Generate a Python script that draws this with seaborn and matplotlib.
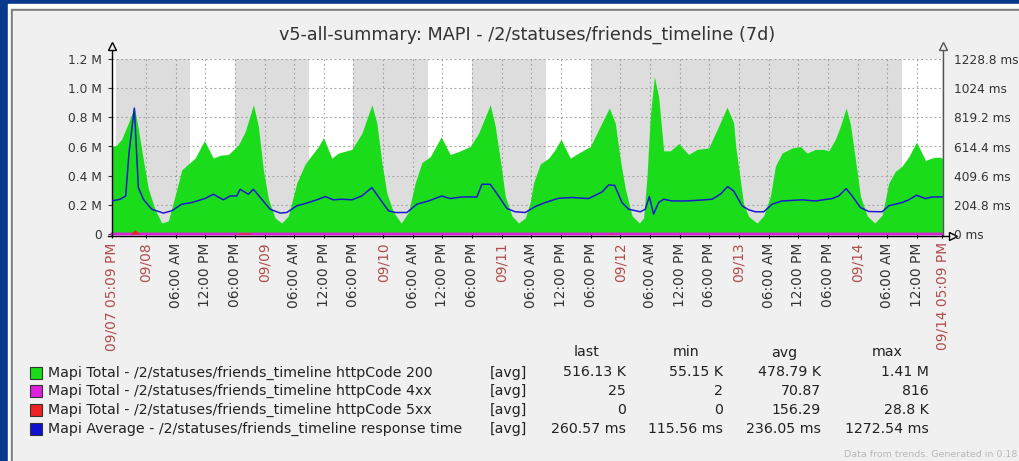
import numpy as np
import pandas as pd
import seaborn as sns
import matplotlib.pyplot as plt
from matplotlib.patches import Rectangle

# time axis: hours since 09/07 05:09 PM, 7 days
start = pd.Timestamp('2015-09-07 17:09')
period_h = 168

# httpCode 200 (millions)
ok_hours = [0.0, 0.95, 1.96, 3.30, 4.52, 5.33, 6.34, 7.35, 8.70, 10.06, 11.40, 12.75, 14.11, 15.44,
            16.80, 18.68, 20.50, 21.86, 23.54, 25.57, 26.92, 28.60, 29.61, 30.62, 31.64, 32.99,
            34.35, 35.68, 37.38, 39.07, 41.76, 42.77, 44.47, 45.81, 48.52, 50.54, 52.57, 53.58,
            54.59, 55.60, 56.94, 58.50, 59.98, 61.33, 62.69, 64.37, 66.59, 68.41, 70.10, 72.46,
            74.14, 76.51, 77.52, 78.54, 79.55, 80.90, 82.24, 83.60, 84.61, 85.28, 86.63, 88.31,
            89.67, 90.82, 92.70, 94.38, 96.75, 98.78, 100.60, 101.81, 102.82, 103.84, 105.19,
            106.67, 107.54, 108.23, 108.90, 109.71, 110.58, 111.59, 112.94, 114.62, 116.65,
            118.35, 120.70, 122.72, 124.42, 125.76, 126.17, 126.98, 127.79, 128.80, 130.49,
            131.83, 133.19, 134.20, 135.55, 137.58, 139.26, 140.61, 142.29, 143.97, 144.99,
            146.34, 147.35, 148.51, 149.38, 150.39, 151.40, 152.76, 154.29, 155.79, 157.13,
            158.48, 159.84, 161.18, 162.74, 164.56, 166.24, 167.59, 168.0]
ok_m = [0.60, 0.61, 0.65, 0.76, 0.87, 0.72, 0.51, 0.31, 0.17, 0.075, 0.09, 0.26, 0.44, 0.48,
        0.52, 0.64, 0.52, 0.54, 0.545, 0.61, 0.70, 0.886, 0.74, 0.44, 0.24, 0.11,
        0.075, 0.125, 0.35, 0.48, 0.60, 0.66, 0.52, 0.555, 0.58, 0.69, 0.886, 0.76,
        0.49, 0.28, 0.15, 0.075, 0.15, 0.35, 0.49, 0.53, 0.666, 0.545, 0.565, 0.60,
        0.69, 0.886, 0.74, 0.51, 0.26, 0.125, 0.075, 0.11, 0.22, 0.35, 0.48, 0.52,
        0.58, 0.65, 0.52, 0.555, 0.60, 0.74, 0.864, 0.76, 0.51, 0.31, 0.125,
        0.075, 0.11, 0.40, 0.81, 1.08, 0.94, 0.57, 0.57, 0.62, 0.545,
        0.58, 0.59, 0.74, 0.87, 0.76, 0.60, 0.40, 0.20, 0.12, 0.075,
        0.125, 0.26, 0.466, 0.555, 0.59, 0.60, 0.555, 0.58, 0.58, 0.57,
        0.65, 0.74, 0.864, 0.75, 0.51, 0.26, 0.125, 0.075, 0.13, 0.35,
        0.43, 0.466, 0.53, 0.63, 0.505, 0.525, 0.527, 0.516]

# httpCode 4xx / 5xx (millions)
err4_hours = [0, 42, 84, 126, 168]
err4_m = [0.00007, 0.00006, 0.00008, 0.00007, 0.000025]
err5_hours = [0, 3.6, 4.6, 5.6, 25.0, 26.2, 27.6, 28.8, 100.3, 101.0, 101.7, 168]
err5_m = [0, 0, 0.0288, 0, 0, 0.008, 0.008, 0, 0, 0.006, 0, 0]

# response time (ms)
rt_hours = [0.0, 1.62, 2.77, 3.44, 4.52, 5.33, 6.34, 8.03, 10.39, 12.08, 14.11, 16.13, 18.82,
            20.50, 22.53, 23.88, 25.23, 25.91, 27.59, 28.60, 30.30, 31.98, 34.01, 35.36, 37.38,
            39.41, 41.76, 43.11, 44.79, 46.49, 48.52, 50.54, 52.57, 54.25, 55.93, 57.28, 59.65,
            61.67, 64.02, 66.73, 68.41, 70.78, 73.82, 74.83, 76.51, 78.19, 79.89, 81.57, 83.60,
            85.62, 87.64, 90.34, 93.05, 96.41, 99.12, 100.46, 101.67, 103.17, 104.50, 106.87,
            107.88, 108.69, 109.56, 110.58, 111.59, 113.29, 115.98, 118.67, 121.38, 123.06,
            124.54, 125.76, 127.46, 128.80, 130.15, 131.83, 133.53, 135.55, 139.60, 142.29,
            145.68, 147.01, 148.51, 149.72, 151.40, 153.08, 155.79, 157.13, 159.84, 161.18,
            162.74, 164.56, 165.91, 167.59, 168.0]
rt_ms = [232, 244, 267, 570, 884, 326, 244, 174, 147, 163, 209, 221, 249,
         279, 240, 267, 267, 314, 279, 314, 244, 174, 147, 151, 198,
         217, 244, 263, 240, 244, 240, 267, 326, 244, 163, 151, 151,
         209, 232, 267, 249, 260, 260, 349, 349, 267, 179, 156, 151,
         193, 221, 251, 256, 249, 295, 344, 342, 221, 174, 156,
         174, 263, 140, 221, 244, 232, 232, 237, 244, 279,
         333, 302, 198, 170, 156, 156, 209, 232, 240, 232,
         249, 267, 319, 267, 186, 158, 156, 198, 221, 240,
         272, 249, 260, 260, 260]

left_ticks = [0, 0.2, 0.4, 0.6, 0.8, 1.0, 1.2]
left_labels = ['0', '0.2 M', '0.4 M', '0.6 M', '0.8 M', '1.0 M', '1.2 M']
right_ticks = [0, 204.8, 409.6, 614.4, 819.2, 1024, 1228.8]
right_labels = ['0 ms', '204.8 ms', '409.6 ms', '614.4 ms', '819.2 ms', '1024 ms', '1228.8 ms']

title = 'v5-all-summary: MAPI - /2/statuses/friends_timeline (7d)'
legend_names = ['Mapi Total - /2/statuses/friends_timeline httpCode 200',
                'Mapi Total - /2/statuses/friends_timeline httpCode 4xx',
                'Mapi Total - /2/statuses/friends_timeline httpCode 5xx',
                'Mapi Average - /2/statuses/friends_timeline response time']
legend_colors = ['#1adc1a', '#dc20dc', '#ee2222', '#1010d0']
col_names = ['last', 'min', 'avg', 'max']
col_last = ['516.13 K', '25', '0', '260.57 ms']
col_min = ['55.15 K', '2', '0', '115.56 ms']
col_avg = ['478.79 K', '70.87', '156.29', '236.05 ms']
col_max = ['1.41 M', '816', '28.8 K', '1272.54 ms']

W, H = 1020, 461


def fx(x):
    return x / W


def fy(y):
    return 1 - y / H


fig = plt.figure(figsize=(W / 100, H / 100), dpi=100)
fig.patch.set_facecolor('#073a8a')
fig.patches.append(Rectangle((fx(8), 0), 1, fy(4), transform=fig.transFigure, color='white', zorder=-3))
fig.patches.append(Rectangle((fx(11), 0), 1, fy(9), transform=fig.transFigure, color='#7c7c7c', zorder=-2))
fig.patches.append(Rectangle((fx(13), 0), 1, fy(11), transform=fig.transFigure, color='#f0f0f0', zorder=-1))

ax = fig.add_axes([fx(112), fy(234), (942.5 - 112) / W, 175 / H])
ax.set_facecolor('#dddddd')
ax.set_xlim(0, period_h)
ax.set_ylim(0, 1.2)

# working time (09:00-18:00 on weekdays) is white
for day in pd.date_range(start.normalize(), periods=8, freq='D'):
    if day.dayofweek < 5:
        a = (day + pd.Timedelta(hours=9) - start) / pd.Timedelta(hours=1)
        b = (day + pd.Timedelta(hours=18) - start) / pd.Timedelta(hours=1)
        a, b = max(a, 0), min(b, period_h)
        if b > a:
            ax.axvspan(a, b, color='white', lw=0, zorder=0)

# grid
ticks = pd.date_range('2015-09-08 00:00', '2015-09-14 12:00', freq='6h')
tick_h = [(t - start) / pd.Timedelta(hours=1) for t in ticks]
for h in tick_h:
    ax.axvline(h, color='#a0a0a0', lw=0.8, ls=(0, (1.5, 2.5)), zorder=1)
for v in left_ticks[1:]:
    ax.axhline(v, color='#a0a0a0', lw=0.8, ls=(0, (1.5, 2.5)), zorder=1)

ax.fill_between(ok_hours, ok_m, color=legend_colors[0], lw=0, zorder=2)
sns.lineplot(x=err4_hours, y=err4_m, ax=ax, color=legend_colors[1], lw=2.0, zorder=3, clip_on=False)
ax.fill_between(err5_hours, err5_m, color=legend_colors[2], lw=0, zorder=4)

ax2 = ax.twinx()
ax2.set_ylim(0, 1228.8)
sns.lineplot(x=rt_hours, y=rt_ms, ax=ax2, color='#1a1acc', lw=1.1, zorder=5)
ax2.set_xlim(0, period_h)

for a_ in (ax, ax2):
    for s in a_.spines.values():
        s.set_visible(False)
    a_.set_xlabel('')
    a_.set_ylabel('')

ax.set_yticks(left_ticks)
ax.set_yticklabels(left_labels)
ax.tick_params(axis='y', length=3, pad=4, labelsize=8.8, colors='#333333')
ax2.set_yticks(right_ticks)
ax2.set_yticklabels(right_labels)
ax2.tick_params(axis='y', length=0, pad=8.5, labelsize=8.7, colors='#333333')

# x tick labels
all_h = [0] + tick_h + [period_h]
all_lab = ['09/07 05:09 PM']
colors = ['#b04c4c']
for t in ticks:
    if t.hour == 0:
        all_lab.append(t.strftime('%m/%d'))
        colors.append('#b04c4c')
    else:
        all_lab.append(t.strftime('%I:%M %p'))
        colors.append('#333333')
all_lab.append('09/14 05:09 PM')
colors.append('#b04c4c')
ax.set_xticks(all_h)
ax.set_xticklabels(all_lab, rotation=90, va='top', ha='center')
ax.tick_params(axis='x', length=3, pad=3, labelsize=9.9)
for lbl, c in zip(ax.get_xticklabels(), colors):
    lbl.set_color(c)

# axis lines with arrows
ax.plot([0, 0], [-0.01, 1.07], transform=ax.transAxes, color='black', lw=1, clip_on=False, zorder=6)
ax.plot([0], [1.075], transform=ax.transAxes, marker='^', ms=6, mfc='#f0f0f0', mec='black',
        mew=1, clip_on=False, zorder=6)
ax.plot([1, 1], [-0.01, 1.07], transform=ax.transAxes, color='#555555', lw=1, clip_on=False, zorder=6)
ax.plot([1], [1.075], transform=ax.transAxes, marker='^', ms=6, mfc='#f0f0f0', mec='#555555',
        mew=1, clip_on=False, zorder=6)
ax.plot([-0.005, 1.008], [-0.01, -0.01], transform=ax.transAxes, color='black', lw=1, clip_on=False, zorder=6)
ax.plot([1.013], [-0.01], transform=ax.transAxes, marker='>', ms=6, mfc='#f0f0f0', mec='black',
        mew=1, clip_on=False, zorder=6)

fig.text(fx(527), fy(35), title, ha='center', va='center', fontsize=12.7, color='#333333')

# legend
rows_y = [372.5, 391, 410, 429]
fs = 10.2
for i, name in enumerate(legend_names):
    y = rows_y[i]
    fig.patches.append(Rectangle((fx(30), fy(y + 6)), 12 / W, 12 / H, transform=fig.transFigure,
                                 facecolor=legend_colors[i], edgecolor='#333333', lw=0.8))
    fig.text(fx(48), fy(y), name, ha='left', va='center', fontsize=fs, color='#222222')
    fig.text(fx(490), fy(y), '[avg]', ha='left', va='center', fontsize=fs, color='#222222')
    for xr, col in zip([626, 722.7, 820.7, 929], [col_last, col_min, col_avg, col_max]):
        fig.text(fx(xr), fy(y), col[i], ha='right', va='center', fontsize=fs, color='#222222')
for xc, name in zip([587, 686, 784, 887], col_names):
    fig.text(fx(xc), fy(352.5), name, ha='center', va='center', fontsize=fs, color='#222222')

fig.text(fx(1017), fy(454), 'Data from trends. Generated in 0.18', ha='right', va='center',
         fontsize=6.8, color='#b8b8b8')

fig.savefig('out.png', dpi=100, facecolor=fig.get_facecolor())
